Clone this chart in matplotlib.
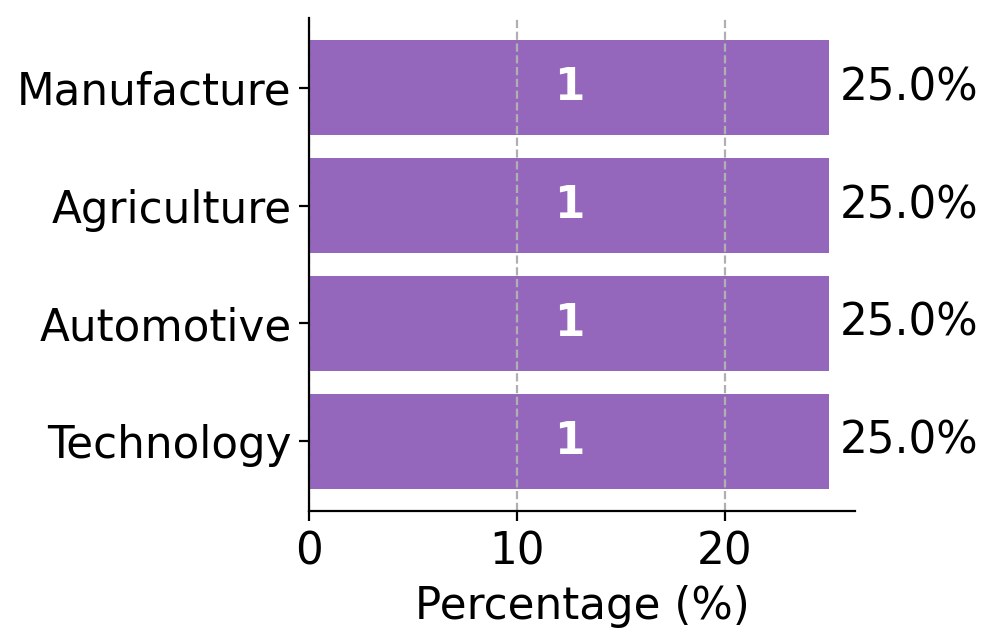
import matplotlib
matplotlib.use("Agg")
import matplotlib.pyplot as plt

categories = ["Technology", "Automotive", "Agriculture", "Manufacture"]
counts = [1, 1, 1, 1]
percentages = [25.0, 25.0, 25.0, 25.0]

FS = 15.7
fig = plt.figure(figsize=(4.985, 3.2), dpi=200)
ax = fig.add_axes([309/997, 1-511/640, (855-309)/997, (511-18)/640])

bars = ax.barh(categories, percentages, color="#9467bd", height=0.8)
ax.set_xlim(0, max(percentages) * 1.05)
ax.set_xticks([0, 10, 20])
ax.tick_params(labelsize=FS)
ax.tick_params(axis="y", pad=2.8)
ax.set_xlabel("Percentage (%)", fontsize=FS)
ax.xaxis.grid(True, linestyle="--", color="#b0b0b0", linewidth=0.8)
ax.set_axisbelow(False)
for s in ["top", "right"]:
    ax.spines[s].set_visible(False)
for s in ["left", "bottom"]:
    ax.spines[s].set_zorder(5)

for i, (c, p) in enumerate(zip(counts, percentages)):
    ax.text(p / 2, i, str(c), ha="center", va="center", color="white",
            fontsize=FS, fontweight="bold")
    ax.text(p + 0.5, i, f"{p:.1f}%", ha="left", va="center", fontsize=FS)

fig.savefig("out.png", dpi=200)
